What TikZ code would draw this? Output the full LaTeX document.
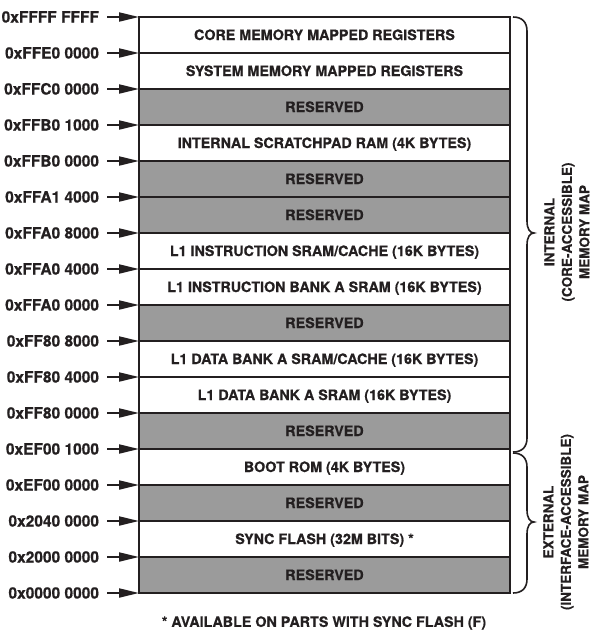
\documentclass[tikz,border=0pt]{standalone}
\usepackage{fontspec}
\setmainfont{TeX Gyre Heros}[BoldFeatures={FakeBold=0.6}]
\usetikzlibrary{arrows.meta}
\definecolor{ink}{HTML}{231F20}
\definecolor{resgray}{HTML}{9B9B9B}
\begin{document}
\begin{tikzpicture}[x=1pt,y=-1pt,
  every node/.style={font=\fontsize{14.3}{16}\selectfont\bfseries, text=ink, inner sep=0pt, outer sep=0pt},
  memrow/.style={draw=ink, line width=2pt, fill=white, minimum width=371pt, minimum height=36pt, anchor=north west, text height=10pt, text depth=0pt},
  resrow/.style={memrow, fill=resgray},
  addr/.style={anchor=east, text height=11pt, text depth=0pt, font=\fontsize{15.5}{17}\selectfont\bfseries},
  ptr/.style={draw=ink, line width=2pt, -{Triangle[length=20pt,width=9pt]}},
  bracepath/.style={draw=ink, line width=1.6pt},
  side/.style={rotate=90, align=center, font=\fontsize{13.5}{17.5}\selectfont\bfseries}]
\useasboundingbox (0,0) rectangle (594,641);

\node[memrow] (r1)  at (139,17)  {CORE MEMORY MAPPED REGISTERS};
\node[memrow] (r2)  at (139,53)  {SYSTEM MEMORY MAPPED REGISTERS};
\node[resrow] (r3)  at (139,89)  {RESERVED};
\node[memrow] (r4)  at (139,125) {INTERNAL SCRATCHPAD RAM (4K BYTES)};
\node[resrow] (r5)  at (139,161) {RESERVED};
\node[resrow] (r6)  at (139,197) {RESERVED};
\node[memrow] (r7)  at (139,233) {L1 INSTRUCTION SRAM/CACHE (16K BYTES)};
\node[memrow] (r8)  at (139,269) {L1 INSTRUCTION BANK A SRAM (16K BYTES)};
\node[resrow] (r9)  at (139,305) {RESERVED};
\node[memrow] (r10) at (139,341) {L1 DATA BANK A SRAM/CACHE (16K BYTES)};
\node[memrow] (r11) at (139,377) {L1 DATA BANK A SRAM (16K BYTES)};
\node[resrow] (r12) at (139,413) {RESERVED};
\node[memrow] (r13) at (139,449) {BOOT ROM (4K BYTES)};
\node[resrow] (r14) at (139,485) {RESERVED};
\node[memrow] (r15) at (139,521) {SYNC FLASH (32M BITS) *};
\node[resrow] (r16) at (139,557) {RESERVED};

\foreach \t [count=\j from 0] in {0xFFFF FFFF,0xFFE0 0000,0xFFC0 0000,0xFFB0 1000,0xFFB0 0000,0xFFA1 4000,0xFFA0 8000,0xFFA0 4000,0xFFA0 0000,0xFF80 8000,0xFF80 4000,0xFF80 0000,0xEF00 1000,0xEF00 0000,0x2040 0000,0x2000 0000,0x0000 0000}
  \node[addr] (a\j) at (99,{17+36*\j}) {\t};

\foreach \j [evaluate=\j as \k using int(\j+1)] in {0,...,15}
  \draw[ptr] ([xshift=8pt]a\j.east) -- (r\k.north west);
\draw[ptr] ([xshift=8pt]a16.east) -- (r16.south west);

% braces
\draw[bracepath] (513,17) .. controls (522,17) and (527,22) .. (527,31) -- (527,221)
  .. controls (527,229) and (530,233) .. (534,233)
  .. controls (530,233) and (527,237) .. (527,245) -- (527,438)
  .. controls (527,447) and (522,452) .. (513,452);
\draw[bracepath] (513,453) .. controls (522,453) and (527,458) .. (527,467) -- (527,510)
  .. controls (527,518) and (530,522) .. (534,522)
  .. controls (530,522) and (527,526) .. (527,534) -- (527,579)
  .. controls (527,588) and (522,593) .. (513,593);

\node[side] (internal) at (567,232) {INTERNAL\\(CORE-ACCESSIBLE)\\MEMORY MAP};
\node[side] (external) at (566,522) {EXTERNAL\\(INTERFACE-ACCESSIBLE)\\MEMORY MAP};

\node (note) at (324,623) {* AVAILABLE ON PARTS WITH SYNC FLASH (F)};
\end{tikzpicture}
\end{document}
